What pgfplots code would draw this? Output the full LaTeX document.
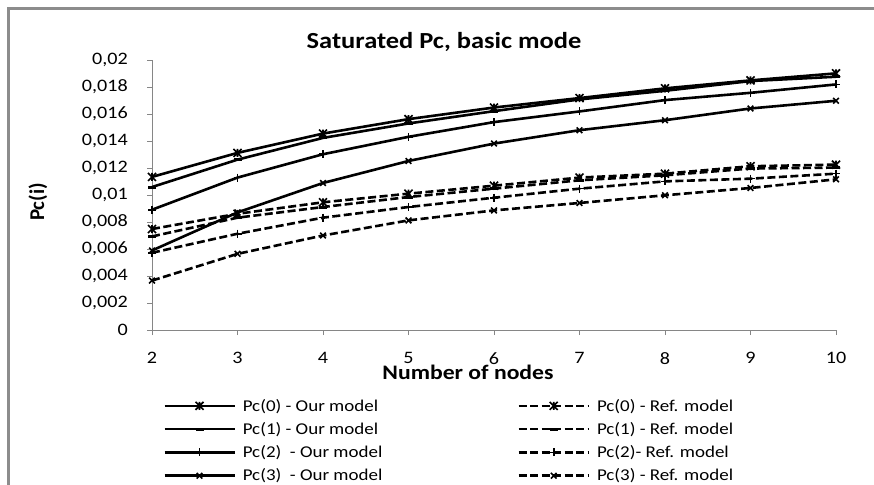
\documentclass[border=0pt]{standalone}
\usepackage{fontspec}
\setmainfont{Carlito}[FakeStretch=1.15]
\newfontfamily\plainfont{Carlito}
\usepackage{pgfplots}
\pgfplotsset{compat=1.18}

\definecolor{axisgray}{HTML}{868686}
\definecolor{framegray}{HTML}{8C8C8C}

% Excel "star" marker: an x with a vertical bar through it
\pgfdeclareplotmark{xstar}{%
  \pgfpathmoveto{\pgfqpoint{-\pgfplotmarksize}{-\pgfplotmarksize}}%
  \pgfpathlineto{\pgfqpoint{\pgfplotmarksize}{\pgfplotmarksize}}%
  \pgfpathmoveto{\pgfqpoint{-\pgfplotmarksize}{\pgfplotmarksize}}%
  \pgfpathlineto{\pgfqpoint{\pgfplotmarksize}{-\pgfplotmarksize}}%
  \pgfpathmoveto{\pgfqpoint{0pt}{-\pgfplotmarksize}}%
  \pgfpathlineto{\pgfqpoint{0pt}{\pgfplotmarksize}}%
  \pgfusepathqstroke}

\newcommand\tickfont{\fontsize{17.5}{20}\selectfont}

\begin{document}
\begin{tikzpicture}
\path[use as bounding box] (0,0) rectangle (874pt,-484pt);
\draw[framegray, line width=2.5pt] (8.5pt,-490pt) -- (8.5pt,-8.5pt) -- (880pt,-8.5pt);

\begin{axis}[
    at={(152pt,-330pt)}, anchor=south west,
    scale only axis,
    width=684pt, height=270pt,
    xmin=2, xmax=10, ymin=0, ymax=0.02,
    xtick={2,...,10},
    ytick={0,0.002,...,0.0201},
    axis x line*=bottom, axis y line*=left,
    axis line style={axisgray, line width=1pt},
    tick style={axisgray, line width=1pt},
    tick align=outside, major tick length=5pt,
    clip=false,
    scaled y ticks=false,
    yticklabel={\tickfont\pgfmathprintnumber[use comma, fixed, precision=3, assume math mode=true]{\tick}},
    xticklabel={\tickfont\pgfmathprintnumber[assume math mode=true]{\tick}},
    yticklabel style={anchor=east, inner sep=0pt, xshift=-19pt},
    xticklabel style={anchor=north, inner sep=0pt, yshift=-17pt},
    title={Saturated Pc, basic mode},
    title style={font=\fontsize{23}{26}\selectfont\bfseries, at={(axis description cs:0.427,1.022)}, anchor=base, inner sep=0pt},
    xlabel={Number of nodes},
    xlabel style={font=\fontsize{20.6}{24}\selectfont\bfseries, at={(axis description cs:0.462,-0.185)}, anchor=base, inner sep=0pt},
    ylabel={Pc(i)},
    ylabel style={font=\fontsize{21}{24}\plainfont\bfseries, at={(axis description cs:-0.1667,0.474)}, anchor=center, rotate=0, inner sep=0pt},
    legend columns=2,
    legend cell align=left,
    legend style={draw=none, fill=none, at={(axis description cs:0.0117,-0.244)}, anchor=north west,
        font=\fontsize{16.5}{18}\selectfont, row sep=7.7pt,
        nodes={inner sep=1pt},
        /tikz/every odd column/.append style={column sep=6pt},
        /tikz/every even column/.append style={column sep=134pt}},
    legend image code/.code={\draw[mark repeat=2,mark phase=2] plot coordinates {(0pt,0pt) (35pt,0pt) (70pt,0pt)};},
    every axis plot/.append style={black, line width=2.6pt, mark size=4pt},
]
% our model: solid, ref. model: dashed
\addplot[mark=xstar, mark options={solid, line width=1.6pt}] coordinates {
 (2,0.01134) (3,0.01312) (4,0.01455) (5,0.01562) (6,0.01648) (7,0.01718) (8,0.0179) (9,0.01849) (10,0.01901)};
\addlegendentry{Pc(0) - Our model}
\addplot[dash pattern=on 8pt off 3.5pt, mark=xstar, mark options={solid, line width=1.6pt}] coordinates {
 (2,0.00748) (3,0.00861) (4,0.00946) (5,0.0101) (6,0.01069) (7,0.01129) (8,0.01158) (9,0.01213) (10,0.01225)};
\addlegendentry{Pc(0) - Ref. model}

\addplot[mark=-, mark options={solid, line width=3pt}] coordinates {
 (2,0.01059) (3,0.01262) (4,0.01423) (5,0.0153) (6,0.01621) (7,0.01708) (8,0.01772) (9,0.01844) (10,0.01876)};
\addlegendentry{Pc(1) - Our model}
\addplot[dash pattern=on 8pt off 3.5pt, mark=-, mark options={solid, line width=3pt}] coordinates {
 (2,0.00693) (3,0.00832) (4,0.00911) (5,0.00985) (6,0.01047) (7,0.01109) (8,0.01146) (9,0.01196) (10,0.01203)};
\addlegendentry{Pc(1) - Ref. model}

\addplot[mark=+, mark options={solid, line width=1.6pt}] coordinates {
 (2,0.00891) (3,0.01129) (4,0.01302) (5,0.01431) (6,0.0154) (7,0.01619) (8,0.01703) (9,0.01757) (10,0.01819)};
\addlegendentry{Pc(2)\ \ - Our model}
\addplot[dash pattern=on 8pt off 3.5pt, mark=+, mark options={solid, line width=1.6pt}] coordinates {
 (2,0.00572) (3,0.00713) (4,0.00832) (5,0.00911) (6,0.0098) (7,0.01047) (8,0.01101) (9,0.01121) (10,0.01158)};
\addlegendentry{Pc(2)- Ref. model}

\addplot[mark=x, mark options={solid, line width=1.6pt}] coordinates {
 (2,0.00589) (3,0.00871) (4,0.01089) (5,0.01252) (6,0.01381) (7,0.0148) (8,0.01554) (9,0.01641) (10,0.01698)};
\addlegendentry{Pc(3)\ \ - Our model}
\addplot[dash pattern=on 8pt off 3.5pt, mark=x, mark options={solid, line width=1.6pt}] coordinates {
 (2,0.00366) (3,0.00564) (4,0.007) (5,0.00812) (6,0.00886) (7,0.00941) (8,0.00998) (9,0.01052) (10,0.01116)};
\addlegendentry{Pc(3) - Ref. model}
\end{axis}
\end{tikzpicture}
\end{document}
